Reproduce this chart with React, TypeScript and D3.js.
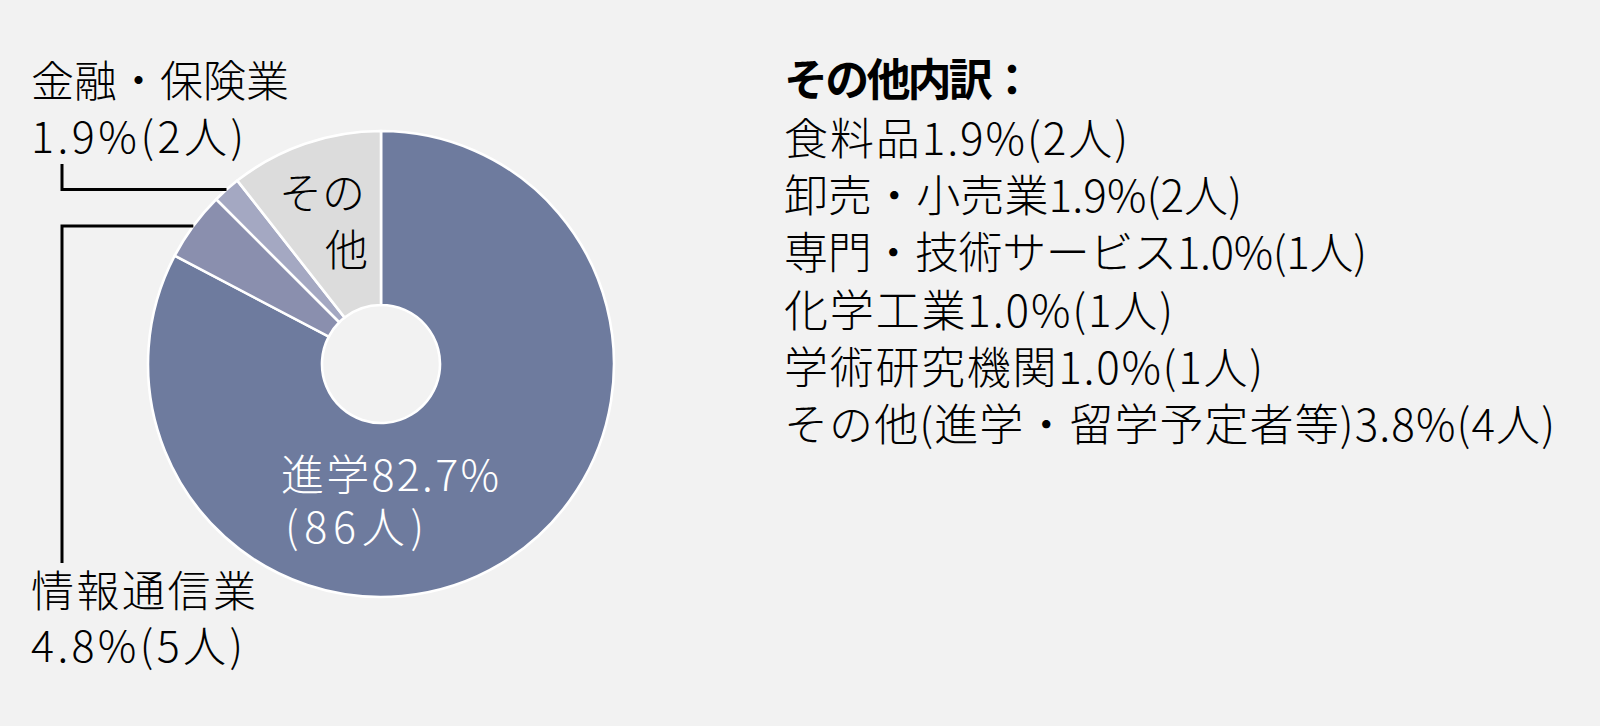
import { useEffect, useRef } from 'react';
import * as d3 from 'd3';

// 卒業後の進路（全104人）
const categories = ['進学', '情報通信業', '金融・保険業', 'その他'];
const counts = [86, 5, 2, 11];
const percents = [82.7, 4.8, 1.9, 10.6];
const sliceColors = ['#6e7b9e', '#8a8fae', '#a4a8c2', '#dcdcdc'];

// その他内訳
const otherItems = [
  '食料品',
  '卸売・小売業',
  '専門・技術サービス',
  '化学工業',
  '学術研究機関',
  'その他(進学・留学予定者等)',
];
const otherPercents = [1.9, 1.9, 1.0, 1.0, 1.0, 3.8];
const otherCounts = [2, 2, 1, 1, 1, 4];

const FONT = "'Noto Sans CJK JP', 'Noto Sans JP', sans-serif";

export default function App() {
  const svgRef = useRef<SVGSVGElement>(null);

  useEffect(() => {
    document.body.style.margin = '0';
    document.body.style.background = '#f2f2f2';
    if (!svgRef.current) return;

    const width = 1600;
    const height = 726;
    const cx = 381;
    const cy = 364;
    const outerR = 233;
    const innerR = 59;

    const svg = d3.select(svgRef.current);
    svg.selectAll('*').remove();
    svg.attr('width', width).attr('height', height);

    svg.append('rect').attr('width', width).attr('height', height).attr('fill', '#f2f2f2');

    const g = svg.append('g').attr('transform', `translate(${cx},${cy})`);

    const arcs = d3
      .pie<number>()
      .sort(null)
      .value((d) => d)(counts);

    const arc = d3
      .arc<d3.PieArcDatum<number>>()
      .innerRadius(innerR)
      .outerRadius(outerR);

    g.selectAll('path.slice')
      .data(arcs)
      .enter()
      .append('path')
      .attr('class', 'slice')
      .attr('d', arc)
      .attr('fill', (_, i) => sliceColors[i])
      .attr('stroke', '#ffffff')
      .attr('stroke-width', 2.6)
      .attr('stroke-linejoin', 'miter');

    // ── Leader lines ──
    const edgePoint = (i: number) => {
      const a = (arcs[i].startAngle + arcs[i].endAngle) / 2;
      return [cx + outerR * Math.sin(a), cy - outerR * Math.cos(a)];
    };
    const lineX = 62;
    const leaders = [
      { idx: 2, endY: 164 },
      { idx: 1, endY: 563 },
    ];
    leaders.forEach(({ idx, endY }) => {
      const [px, py] = edgePoint(idx);
      svg
        .append('path')
        .attr('d', `M${px},${py}H${lineX}V${endY}`)
        .attr('fill', 'none')
        .attr('stroke', '#000')
        .attr('stroke-width', 3);
    });

    const label = (
      txt: string,
      x: number,
      y: number,
      opts: { size?: number; fill?: string; len?: number; anchor?: string; weight?: number } = {},
    ) => {
      const t = svg
        .append('text')
        .attr('x', x)
        .attr('y', y)
        .attr('font-family', FONT)
        .attr('font-size', opts.size ?? 43)
        .attr('font-weight', opts.weight ?? 300)
        .attr('text-anchor', opts.anchor ?? 'start')
        .attr('fill', opts.fill ?? '#000')
        .text(txt);
      if (opts.len) t.attr('textLength', opts.len).attr('lengthAdjust', 'spacing');
      return t;
    };

    const pctLine = (i: number) => `${percents[i].toFixed(1)}%(${counts[i]}人)`;

    // 金融・保険業
    label(categories[2], 31, 97, { len: 258 });
    label(pctLine(2), 31, 153, { len: 213 });
    // 情報通信業
    label(categories[1], 31, 607, { len: 225 });
    label(pctLine(1), 31, 662, { len: 212 });
    // 進学
    label(`${categories[0]}${percents[0].toFixed(1)}%`, 281, 491, { fill: '#fff', len: 218 });
    label(`(${counts[0]}人)`, 285, 543, { fill: '#fff', len: 139 });
    // その他 (inside slice)
    label('その', 365, 209, { anchor: 'end' });
    label('他', 368, 266, { anchor: 'end' });

    // ── その他内訳 ──
    const legendX = 784;
    const legendWidths = [344, 458, 583, 389, 479, 771];
    label('その他内訳：', legendX, 96, { size: 44, weight: 700, len: 250 });
    otherItems.forEach((item, i) => {
      label(
        `${item}${otherPercents[i].toFixed(1)}%(${otherCounts[i]}人)`,
        legendX,
        155 + i * 57.2,
        { size: 44, len: legendWidths[i] },
      );
    });
  }, []);

  return <svg ref={svgRef} style={{ display: 'block' }} />;
}
